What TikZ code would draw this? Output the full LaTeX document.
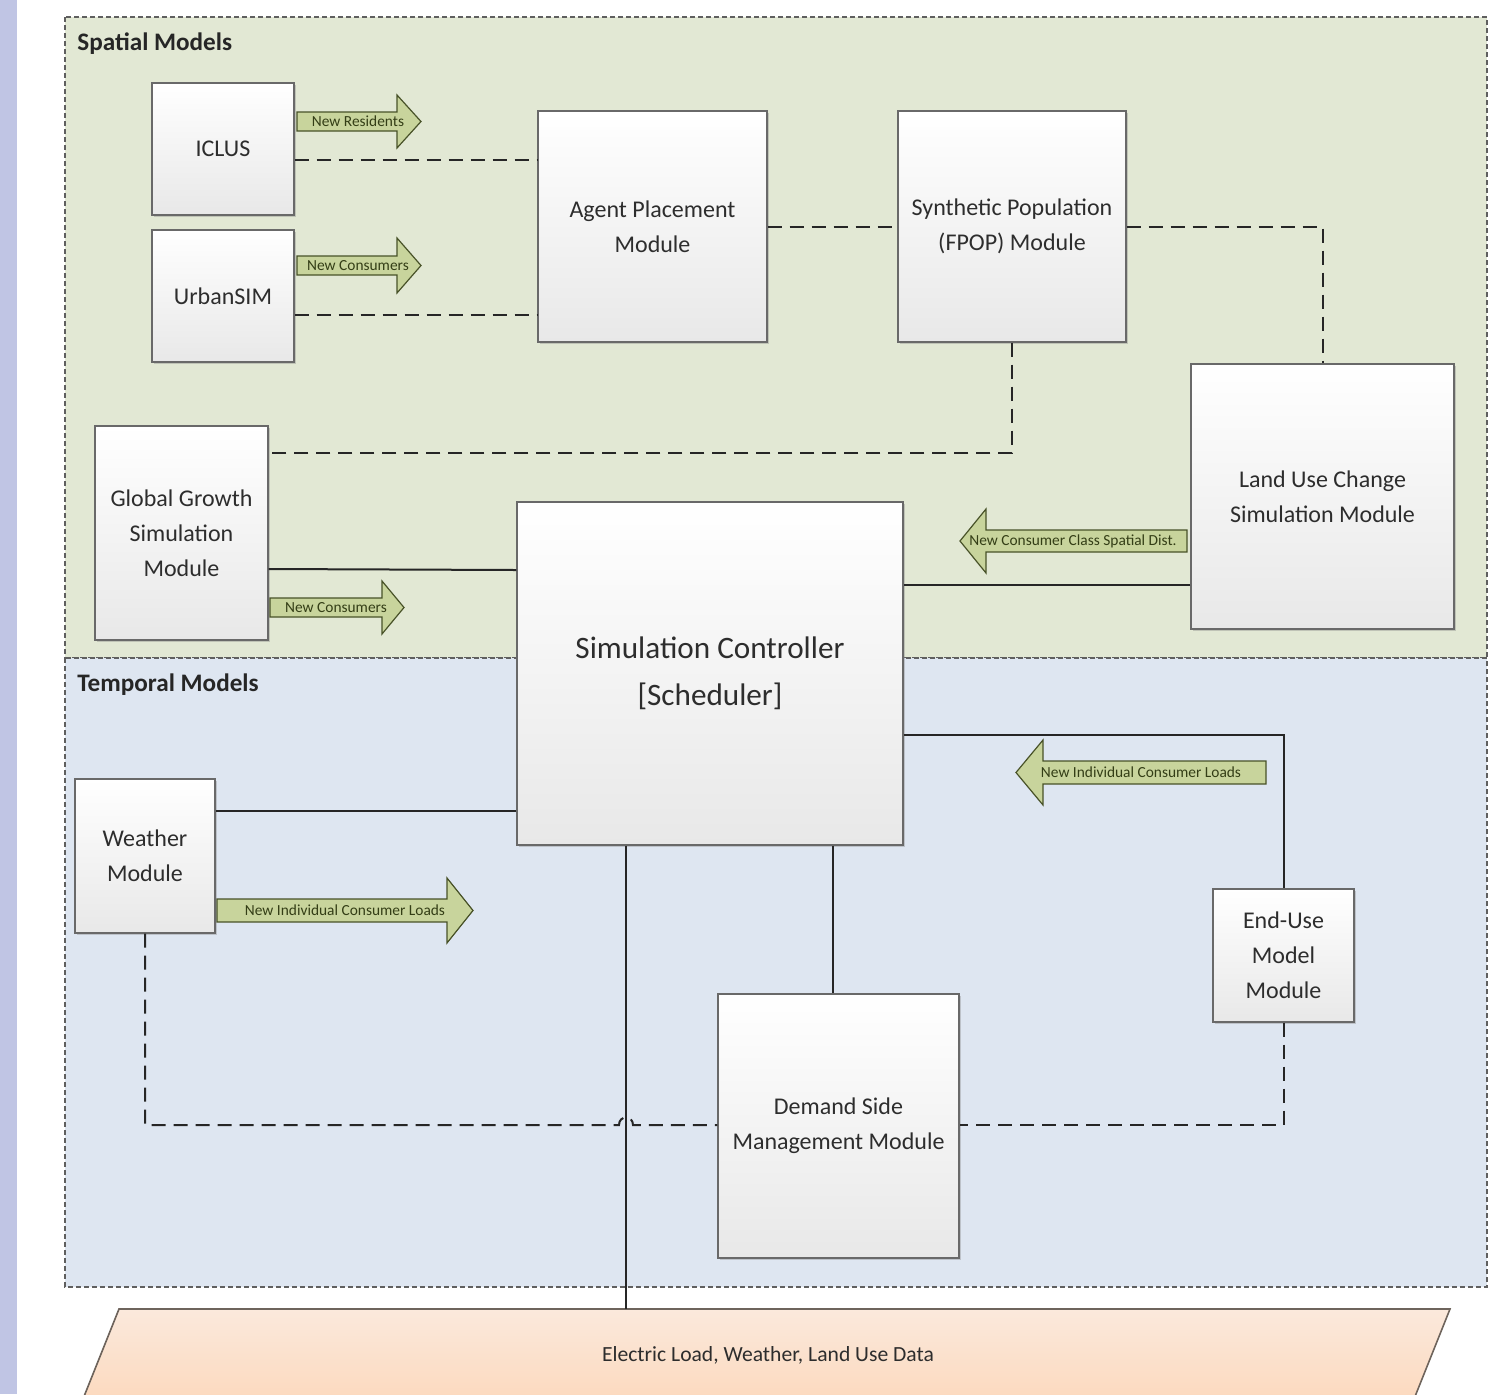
\documentclass[tikz,border=0pt]{standalone}
\usepackage{fontspec}
\setmainfont{Carlito}
\usetikzlibrary{shadows,calc}
\definecolor{strip}{RGB}{192,197,228}
\definecolor{spatialbg}{RGB}{226,232,212}
\definecolor{temporalbg}{RGB}{222,230,241}
\definecolor{regionline}{RGB}{95,95,95}
\definecolor{boxline}{RGB}{105,105,105}
\definecolor{txt}{RGB}{45,45,45}
\definecolor{arrfill}{RGB}{200,212,156}
\definecolor{arrline}{RGB}{72,82,40}
\definecolor{arrtxt}{RGB}{52,62,22}
\definecolor{datatop}{RGB}{251,233,220}
\definecolor{databot}{RGB}{252,214,184}
\definecolor{dataline}{RGB}{110,100,92}
\newcommand{\garrow}[6]{\draw[garr] (#1,#4-#5) -- (#2,#4-#5) -- (#2,#4-#6) -- (#3,#4) -- (#2,#4+#6) -- (#2,#4+#5) -- (#1,#4+#5) -- cycle;}
\begin{document}
\begin{tikzpicture}[x=0.5pt,y=-0.5pt,
 region/.style={draw=regionline, line width=0.6pt, dash pattern=on 2.5pt off 1.5pt},
 box/.style={draw=boxline, line width=0.7pt, top color=white, bottom color=black!9,
   drop shadow={shadow xshift=1.2pt,shadow yshift=-1.2pt,opacity=0.35},
   inner sep=0pt, text=txt, align=center, font=\fontsize{12}{17.5}\selectfont},
 dashc/.style={line width=1pt, dash pattern=on 7pt off 4pt, draw=black!85},
 solidc/.style={line width=1pt, draw=black!85},
 garr/.style={fill=arrfill, draw=arrline, line width=0.6pt},
 glabel/.style={text=arrtxt, font=\fontsize{7.7}{9}\selectfont, inner sep=0pt},
 regtitle/.style={font=\bfseries\fontsize{12.6}{15}\selectfont, text=black!85, anchor=west, inner sep=0pt}
]
\useasboundingbox (0,0) rectangle (1501,1394);
\clip (0,0) rectangle (1501,1394);
% background
\fill[white] (0,0) rectangle (1501,1394);
\fill[strip] (0,0) rectangle (17,1394);
% regions
\filldraw[region, fill=spatialbg] (65,17) rectangle (1487,658);
\filldraw[region, fill=temporalbg] (65,658) rectangle (1487,1287);
\node[regtitle] (spatialtitle) at (77,44) {Spatial Models};
\node[regtitle] (temporaltitle) at (77,685) {Temporal Models};
% data store
\draw[draw=dataline, line width=0.8pt, top color=datatop, bottom color=databot]
  (119,1309) -- (1450,1309) -- (1405.6,1420) -- (74.6,1420) -- cycle;
\coordinate (datatopc) at (626,1309);
\node[text=txt, font=\fontsize{10.8}{13}\selectfont] (data) at (768,1355) {Electric Load, Weather, Land Use Data};
% boxes
\node[box, minimum width=71pt, minimum height=66pt] (iclus) at (223,149) {ICLUS};
\node[box, minimum width=71pt, minimum height=66pt] (urbansim) at (223,296) {UrbanSIM};
\node[box, minimum width=114.5pt, minimum height=115.5pt] (agent) at (652.5,226.5) {Agent Placement\\Module};
\node[box, minimum width=114pt, minimum height=115.5pt] (fpop) at (1012,226.5) {Synthetic Population\\(FPOP) Module};
\node[box, minimum width=131.5pt, minimum height=132.5pt] (landuse) at (1322.5,496.5) {Land Use Change\\Simulation Module};
\node[box, minimum width=86.5pt, minimum height=107pt] (global) at (181.5,533) {Global Growth\\Simulation\\Module};
\node[box, minimum width=193pt, minimum height=171.5pt, font=\fontsize{15.6}{23.5}\selectfont] (controller) at (710,673.5) {Simulation Controller\\{[}Scheduler{]}};
\node[box, minimum width=70pt, minimum height=77pt] (weather) at (145,856) {Weather\\Module};
\node[box, minimum width=70.5pt, minimum height=66.5pt] (enduse) at (1283.5,955.5) {End-Use\\Model\\Module};
\node[box, minimum width=120.5pt, minimum height=132pt] (dsm) at (838.5,1126) {Demand Side\\Management Module};
% dashed connectors
\draw[dashc] (iclus.east |- 0,160) -- (agent.west |- 0,160);
\draw[dashc] (urbansim.east |- 0,315) -- (agent.west |- 0,315);
\draw[dashc] (agent.east) -- (fpop.west);
\draw[dashc] (fpop.east) -| (landuse.north);
\draw[dashc] (fpop.south) |- (global.east |- 0,453);
\coordinate (hopL) at (619,1125);
\coordinate (hopR) at (633,1125);
\draw[dashc] (weather.south) |- (hopL) .. controls +(0,-10) and +(0,-10) .. (hopR) -- (dsm.west |- hopR);
\draw[dashc] (enduse.south) |- (dsm.east |- hopR);
% solid connectors
\draw[solidc] (global.east |- 0,569) -- (controller.west |- 0,570);
\draw[solidc] (landuse.west |- 0,585) -- (controller.east |- 0,585);
\draw[solidc] (weather.east |- 0,811) -- (controller.west |- 0,811);
\draw[solidc] (controller.east |- 0,735) -| (enduse.north);
\draw[solidc] (controller.south -| 833,0) -- (dsm.north -| 833,0);
\draw[solidc] (controller.south -| datatopc) -- (datatopc);
% green block arrows
\garrow{297}{397}{421}{121.5}{9.5}{26.5}
\node[glabel] (lblresidents) at (358,121.5) {New Residents};
\garrow{297}{397}{421}{265.5}{9.5}{27.5}
\node[glabel] (lblconsumers1) at (358,265.5) {New Consumers};
\garrow{270}{382}{404}{607.5}{9.5}{26.5}
\node[glabel] (lblconsumers2) at (336,607.5) {New Consumers};
\garrow{1187}{986}{960}{541}{11}{32}
\node[glabel] (lblspatial) at (1073,541) {New Consumer Class Spatial Dist.};
\garrow{1266}{1043}{1016}{772.5}{11.5}{32.5}
\node[glabel] (lblloads1) at (1141,772.5) {New Individual Consumer Loads};
\garrow{217}{447}{473}{910.5}{11.5}{32.5}
\node[glabel] (lblloads2) at (345,910.5) {New Individual Consumer Loads};
\end{tikzpicture}
\end{document}
